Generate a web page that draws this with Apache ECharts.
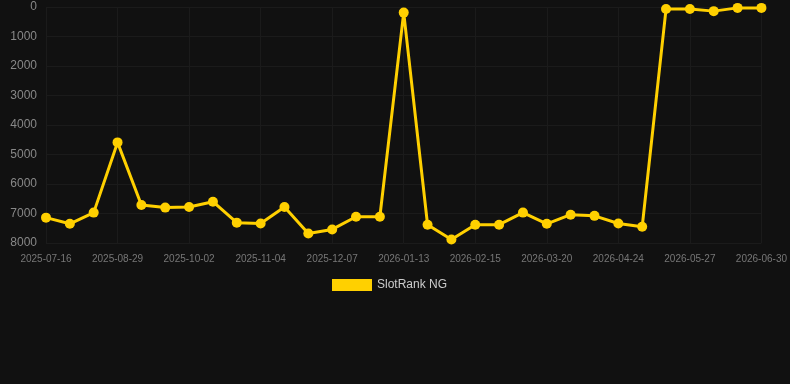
<!DOCTYPE html>
<html>
<head>
<meta charset="utf-8">
<script src="https://cdn.jsdelivr.net/npm/echarts@6/dist/echarts.min.js"></script>
<style>
  html, body { margin: 0; padding: 0; background: #111111; }
  #chart { width: 790px; height: 384px; }
</style>
</head>
<body>
<div id="chart"></div>
<script>
// 日期（每三个点显示一个标签）
var dates = [
  '2025-07-16', '2025-07-30', '2025-08-14', '2025-08-29', '2025-09-09', '2025-09-20',
  '2025-10-02', '2025-10-13', '2025-10-24', '2025-11-04', '2025-11-15', '2025-11-26',
  '2025-12-07', '2025-12-19', '2026-01-01', '2026-01-13', '2026-01-24', '2026-02-04',
  '2026-02-15', '2026-02-26', '2026-03-09', '2026-03-20', '2026-04-01', '2026-04-12',
  '2026-04-24', '2026-05-05', '2026-05-16', '2026-05-27', '2026-06-07', '2026-06-18',
  '2026-06-30'
];
var seriesName = 'SlotRank NG';
var rankValues = [
  7140, 7350, 6970, 4590, 6710, 6800, 6780, 6600, 7310, 7340,
  6780, 7680, 7540, 7110, 7110, 190, 7380, 7880, 7380, 7380,
  6970, 7350, 7040, 7080, 7340, 7450, 70, 70, 140, 30, 30
];
var yTicks = { min: 0, max: 8000, interval: 1000 };

(function () {
  var myChart = echarts.init(document.getElementById('chart'));

  var option = {
    backgroundColor: '#111111',
    animation: false,
    grid: {
      left: 46,
      right: 28,
      top: 7,
      bottom: 141
    },
    legend: {
      data: [seriesName],
      bottom: 88,
      left: 327,
      itemWidth: 40,
      itemHeight: 12,
      itemGap: 6,
      icon: 'rect',
      textStyle: { color: '#cccccc', fontSize: 12, fontFamily: 'Arial, Liberation Sans, sans-serif' }
    },
    xAxis: {
      type: 'category',
      data: dates,
      boundaryGap: false,
      axisLine: { show: false },
      axisTick: { show: false },
      axisLabel: {
        color: '#777777',
        fontSize: 10,
        interval: 2,
        margin: 11,
        fontFamily: 'Arial, Liberation Sans, sans-serif'
      },
      splitLine: {
        show: true,
        interval: 2,
        lineStyle: { color: '#1b1b1b' }
      }
    },
    yAxis: {
      type: 'value',
      inverse: true,
      min: yTicks.min,
      max: yTicks.max,
      interval: yTicks.interval,
      axisLine: { show: false },
      axisTick: { show: false },
      axisLabel: {
        color: '#888888',
        fontSize: 12,
        margin: 9,
        formatter: function (v) { return String(v); },
        fontFamily: 'Arial, Liberation Sans, sans-serif'
      },
      splitLine: { lineStyle: { color: '#1b1b1b' } }
    },
    series: [
      {
        name: seriesName,
        type: 'line',
        data: rankValues,
        color: '#ffd000',
        symbol: 'circle',
        symbolSize: 10,
        lineStyle: { width: 3, color: '#ffd000' },
        itemStyle: { color: '#ffd000' }
      }
    ]
  };

  myChart.setOption(option);
})();
</script>
</body>
</html>
